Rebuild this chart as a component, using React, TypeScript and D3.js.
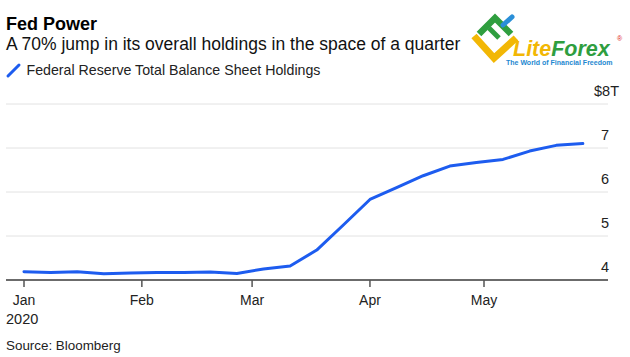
import React from "react";
import * as d3 from "d3";

const dates: string[] = [
  "2020-01-01", "2020-01-08", "2020-01-15", "2020-01-22", "2020-01-29",
  "2020-02-05", "2020-02-12", "2020-02-19", "2020-02-26",
  "2020-03-04", "2020-03-11", "2020-03-18", "2020-03-25",
  "2020-04-01", "2020-04-08", "2020-04-15", "2020-04-22", "2020-04-29",
  "2020-05-06", "2020-05-13", "2020-05-20", "2020-05-27",
];
const holdings: number[] = [
  4.19, 4.17, 4.19, 4.14, 4.16,
  4.17, 4.17, 4.18, 4.15,
  4.25, 4.32, 4.68, 5.25,
  5.83, 6.10, 6.37, 6.59, 6.67,
  6.74, 6.93, 7.06, 7.10,
];
const yTicks: number[] = [4, 5, 6, 7, 8];
const yTickLabels: string[] = ["4", "5", "6", "7", "$8T"];
const xTickDates: string[] = ["2020-01-01", "2020-02-01", "2020-03-01", "2020-04-01", "2020-05-01"];
const xTickLabels: string[] = ["Jan", "Feb", "Mar", "Apr", "May"];

const title = "Fed Power";
const subtitle = "A 70% jump in its overall holdings in the space of a quarter";
const legendLabel = "Federal Reserve Total Balance Sheet Holdings";
const source = "Source: Bloomberg";

const FONT = "'Liberation Sans', Arial, Helvetica, sans-serif";
const BLUE = "#1d5cef";

export default function App() {
  const W = 630, H = 357;
  const parse = d3.utcParse("%Y-%m-%d");
  const x = d3.scaleUtc()
    .domain([parse("2020-01-01")!, parse("2020-05-01")!])
    .range([24, 484]);
  const y = d3.scaleLinear().domain([4, 8]).range([280, 104]);
  const gridLeft = 6, gridRight = 608;

  const data = dates.map((d, i) => ({ date: parse(d)!, v: holdings[i] }));
  const line = d3.line<{ date: Date; v: number }>()
    .x((d) => x(d.date))
    .y((d) => y(d.v))
    .curve(d3.curveLinear);

  return (
    <svg width={W} height={H} style={{ position: "absolute", left: 0, top: 0, background: "#fff" }} fontFamily={FONT}>
      <rect width={W} height={H} fill="#fff" />
      {/* Titles */}
      <text x={6} y={29.5} fontSize={18} fontWeight="bold" fill="#000">{title}</text>
      <text x={6} y={50} fontSize={17.5} fill="#111">{subtitle}</text>
      {/* Legend */}
      <line x1={8} y1={76} x2={19} y2={65} stroke={BLUE} strokeWidth={3} strokeLinecap="round" />
      <text x={26.5} y={74.5} fontSize={14.2} fill="#222">{legendLabel}</text>

      {/* Grid */}
      {yTicks.filter((t) => t !== 4).map((t) => (
        <line key={t} x1={gridLeft} x2={gridRight} y1={y(t)} y2={y(t)} stroke="#e2e2e2" strokeWidth={1} />
      ))}
      {yTicks.map((t, i) => (
        t === 8 ? (
          <text key={t} x={594} y={y(t) - 8.5} fontSize={14.5} fill="#222">{yTickLabels[i]}</text>
        ) : (
          <text key={t} x={609} y={y(t) - 8.5} fontSize={14.5} fill="#222" textAnchor="end">{yTickLabels[i]}</text>
        )
      ))}

      {/* Axis */}
      <line x1={gridLeft} x2={gridRight} y1={y(4)} y2={y(4)} stroke="#6b6b6b" strokeWidth={2} />
      {xTickDates.map((d, i) => {
        const xx = x(parse(d)!);
        return (
          <g key={d}>
            <line x1={xx} x2={xx} y1={y(4)} y2={y(4) + 7} stroke="#555" strokeWidth={1.5} />
            <text x={xx} y={305} fontSize={14} fill="#222" textAnchor="middle">{xTickLabels[i]}</text>
          </g>
        );
      })}
      <text x={6} y={323.5} fontSize={14.5} fill="#222">2020</text>

      {/* Series */}
      <path d={line(data) || ""} fill="none" stroke={BLUE} strokeWidth={3} strokeLinejoin="round" strokeLinecap="round" />

      {/* Source */}
      <text x={6} y={349.5} fontSize={13.4} fill="#222">{source}</text>

      {/* Logo */}
      <g>
        <polyline points="474,36 494,58 516,38" fill="none" stroke="#f2b705" strokeWidth={7} strokeLinejoin="miter" />
        <polyline points="479,34 495,18 511,34" fill="none" stroke="#2f9e3f" strokeWidth={6.5} strokeLinejoin="miter" />
        <line x1={489} y1={28} x2={499} y2={38} stroke="#2f9e3f" strokeWidth={5} />
        <line x1={503} y1={25} x2={512} y2={17} stroke="#2a8fd8" strokeWidth={5} strokeLinecap="round" />
        <text x={513} y={55.5} fontSize={21.5} fontWeight="bold" fontStyle="italic">
          <tspan fill="#f2b705">Lite</tspan><tspan fill="#2f9e3f">Forex</tspan>
        </text>
        <text x={506} y={65} fontSize={7} fontWeight="bold" fill="#1e88d0">The World of Financial Freedom</text>
        <text x={617} y={41} fontSize={7} fill="#d22">®</text>
      </g>
    </svg>
  );
}
